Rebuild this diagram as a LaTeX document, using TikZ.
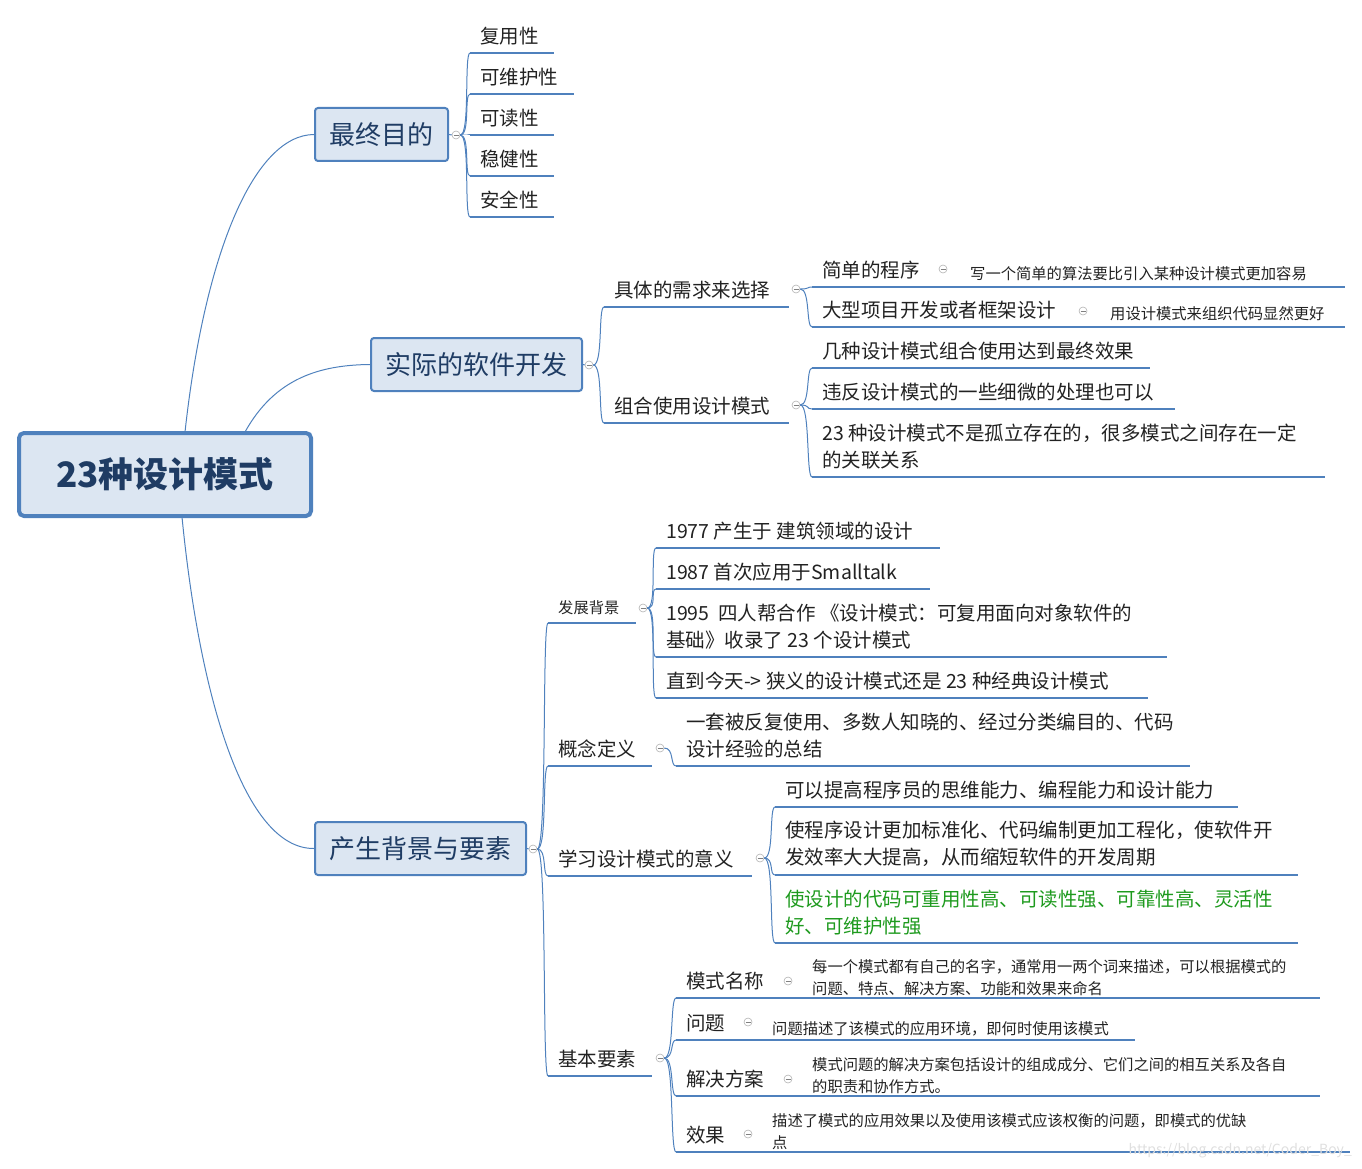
\documentclass[tikz,border=0pt]{standalone}
\usepackage{fontspec}
\setmainfont{Noto Sans CJK SC}
\usetikzlibrary{calc}
\definecolor{bl}{HTML}{4F81BD}
\definecolor{fillb}{HTML}{DCE6F2}
\definecolor{tx}{HTML}{222222}
\definecolor{dk}{HTML}{1F3C64}
\definecolor{gr}{HTML}{1E9A1E}
\tikzset{
 ul/.style={draw=bl,line width=2},
 br/.style={draw=bl,line width=1},
 t19/.style={font=\fontsize{19.5}{27}\selectfont,text=tx,align=left,inner sep=0},
 t15/.style={font=\fontsize{15.3}{22}\selectfont,text=tx,align=left,inner sep=0},
 mainbox/.style={draw=bl,line width=2,fill=fillb,rounded corners=3,font=\fontsize{26}{30}\selectfont,text=dk,inner sep=0},
 cc/.style={circle,draw=gray!60,line width=0.6,inner sep=0,minimum size=8,
   path picture={\draw[gray,line width=0.6] ([xshift=-2.5]path picture bounding box.center) -- ([xshift=2.5]path picture bounding box.center);}}
}
\newcommand\itm[6]{\coordinate (#1u) at (#2,#3); \draw[ul] (#1u) -- ++(#4,0); \node[#5,anchor=south west] (#1) at ($(#1u)+(10,-8)$) {#6};}
\newcommand\brk[2]{\draw[br] (#1.east) .. controls ($(#1.east)+(10,0)$) and ($(#2)+(-6,0)$) .. (#2);}
\begin{document}
\begin{tikzpicture}[x=1pt,y=-1pt]
\useasboundingbox (0,0) rectangle (1362,1169);
% root
\node[draw=bl,line width=4,fill=fillb,rounded corners=5,minimum width=292,minimum height=83,font=\fontsize{35}{40}\selectfont\bfseries,text=dk] (root) at (165,474.5) {23种设计模式};
\node[mainbox,minimum width=133,minimum height=53] (m1) at (381.5,134.5) {最终目的};
\node[mainbox,minimum width=211,minimum height=53] (m2) at (476.5,364.5) {实际的软件开发};
\node[mainbox,minimum width=211,minimum height=53] (m3) at (420.5,848.5) {产生背景与要素};
\draw[br] (185,432) .. controls (205,250) and (255,135) .. (m1.west);
\draw[br] (245,432) .. controls (275,378) and (320,365) .. (m2.west);
\draw[br] (182,517) .. controls (200,700) and (245,849) .. (m3.west);
% 最终目的
\node[cc] (c1) at (456,135) {};
\draw[br] (m1.east) -- (c1.west);
\itm{a1}{470}{53}{84}{t19}{复用性}
\itm{a2}{470}{94}{104}{t19}{可维护性}
\itm{a3}{470}{135}{84}{t19}{可读性}
\itm{a4}{470}{176}{84}{t19}{稳健性}
\itm{a5}{470}{217}{84}{t19}{安全性}
\foreach \n in {a1u,a2u,a3u,a4u,a5u}{\brk{c1}{\n}}
% 实际的软件开发
\node[cc] (c2) at (589,365) {};
\draw[br] (m2.east) -- (c2.west);
\itm{b1}{604}{307}{185}{t19}{具体的需求来选择}
\itm{b2}{604}{423}{185}{t19}{组合使用设计模式}
\brk{c2}{b1u}\brk{c2}{b2u}
\node[cc] (cb1) at (796,289) {};
\node[cc] (cb2) at (796,405) {};
\itm{b11}{812}{287}{150}{t19}{简单的程序}
\itm{b12}{812}{327}{288}{t19}{大型项目开发或者框架设计}
\brk{cb1}{b11u}\brk{cb1}{b12u}
\node[cc] (cn1) at (943,269) {};
\node[cc] (cn2) at (1083,311) {};
\coordinate (n1u) at (958,287); \draw[ul] (n1u) -- ++(387,0);
\node[t15,anchor=south west] (n1) at (970,281) {写一个简单的算法要比引入某种设计模式更加容易};
\coordinate (n2u) at (1098,327); \draw[ul] (n2u) -- ++(247,0);
\node[t15,anchor=south west] (n2) at (1110,321) {用设计模式来组织代码显然更好};
\itm{b21}{812}{368}{338}{t19}{几种设计模式组合使用达到最终效果}
\itm{b22}{812}{409}{363}{t19}{违反设计模式的一些细微的处理也可以}
\itm{b23}{812}{477}{513}{t19}{23 种设计模式不是孤立存在的，很多模式之间存在一定\\的关联关系}
\brk{cb2}{b21u}\brk{cb2}{b22u}\brk{cb2}{b23u}
% 产生背景与要素
\node[cc] (c3) at (533,849) {};
\draw[br] (m3.east) -- (c3.west);
\itm{d1}{548}{623}{88}{t15}{发展背景}
\itm{d2}{548}{766}{104}{t19}{概念定义}
\itm{d3}{548}{876}{204}{t19}{学习设计模式的意义}
\itm{d4}{548}{1076}{104}{t19}{基本要素}
\foreach \n in {d1u,d2u,d3u,d4u}{\brk{c3}{\n}}
\node[cc] (cd1) at (643,608) {};
\node[cc] (cd2) at (660,748) {};
\node[cc] (cd3) at (760,858) {};
\node[cc] (cd4) at (660,1058) {};
\itm{e1}{656}{548}{284}{t19}{1977 产生于 建筑领域的设计}
\itm{e2}{656}{589}{274}{t19}{1987 首次应用于Smalltalk}
\itm{e3}{656}{657}{511}{t19}{1995\ \ 四人帮合作 《设计模式：可复用面向对象软件的\\基础》收录了 23 个设计模式}
\itm{e4}{656}{698}{492}{t19}{直到今天-> 狭义的设计模式还是 23 种经典设计模式}
\foreach \n in {e1u,e2u,e3u,e4u}{\brk{cd1}{\n}}
\itm{f1}{676}{766}{514}{t19}{一套被反复使用、多数人知晓的、经过分类编目的、代码\\设计经验的总结}
\brk{cd2}{f1u}
\itm{g1}{775}{807}{463}{t19}{可以提高程序员的思维能力、编程能力和设计能力}
\itm{g2}{775}{875}{523}{t19}{使程序设计更加标准化、代码编制更加工程化，使软件开\\发效率大大提高，从而缩短软件的开发周期}
\itm{g3}{775}{943}{523}{t19,text=gr}{使设计的代码可重用性高、可读性强、可靠性高、灵活性\\好、可维护性强}
\foreach \n in {g1u,g2u,g3u}{\brk{cd3}{\n}}
\itm{h1}{676}{998}{120}{t19}{模式名称}
\itm{h2}{676}{1040}{80}{t19}{问题}
\itm{h3}{676}{1096}{120}{t19}{解决方案}
\itm{h4}{676}{1152}{80}{t19}{效果}
\foreach \n in {h1u,h2u,h3u,h4u}{\brk{cd4}{\n}}
\node[cc] (ch1) at (788,981) {};
\node[cc] (ch2) at (748,1022) {};
\node[cc] (ch3) at (788,1079) {};
\node[cc] (ch4) at (748,1134) {};
\coordinate (k1u) at (796,998); \draw[ul] (k1u) -- ++(524,0);
\node[t15,anchor=south west] (k1) at (812,996) {每一个模式都有自己的名字，通常用一两个词来描述，可以根据模式的\\问题、特点、解决方案、功能和效果来命名};
\coordinate (k2u) at (756,1040); \draw[ul] (k2u) -- ++(379,0);
\node[t15,anchor=south west] (k2) at (772,1036) {问题描述了该模式的应用环境，即何时使用该模式};
\coordinate (k3u) at (796,1096); \draw[ul] (k3u) -- ++(524,0);
\node[t15,anchor=south west] (k3) at (812,1094) {模式问题的解决方案包括设计的组成成分、它们之间的相互关系及各自\\的职责和协作方式。};
\coordinate (k4u) at (756,1152); \draw[ul] (k4u) -- ++(594,0);
\node[t15,anchor=south west] (k4) at (772,1150) {描述了模式的应用效果以及使用该模式应该权衡的问题，即模式的优缺\\点};
\node[font=\fontsize{14}{16}\selectfont,text=gray!25,anchor=east,inner sep=0] (wm) at (1352,1151) {https://blog.csdn.net/Coder\_Boy\_};
\end{tikzpicture}
\end{document}
